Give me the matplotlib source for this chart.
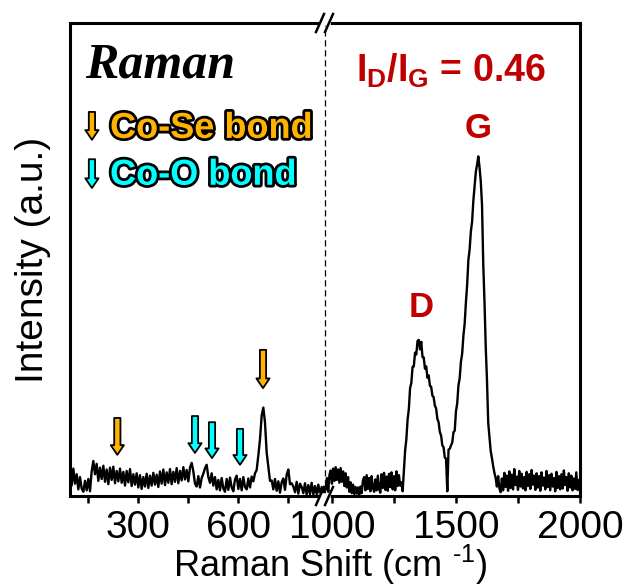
'''
Raman spectrum with a broken x axis (Co-Se / Co-O bonds and D, G bands).
'''

import numpy as np
import matplotlib
matplotlib.use('Agg')
import matplotlib.pyplot as plt
import matplotlib.patheffects as pe
from matplotlib.ticker import FixedLocator
from matplotlib.lines import Line2D

plt.rcParams['font.family'] = ['Liberation Sans', 'DejaVu Sans']
plt.rcParams['mathtext.fontset'] = 'custom'
plt.rcParams['mathtext.rm'] = 'Liberation Sans'
plt.rcParams['mathtext.bf'] = 'Liberation Sans:bold'

########
# DATA #
########

# low wavenumber part (cm-1), sampled every 5
shift_low = np.arange(95, 861, 5)
int_low = [
    5.0, 2.2, 5.8, 2.6, 4.6, 1.4, 4.0, 1.6, 0.9, 3.2,
    1.2, 3.6, 1.0, 5.2, 7.4, 4.6, 6.8, 3.2, 6.0, 3.6,
    6.4, 3.0, 5.6, 2.5, 6.0, 3.4, 6.2, 2.7, 5.3, 3.1,
    5.8, 2.8, 5.1, 2.2, 5.3, 2.9, 5.7, 2.1, 4.6, 2.4,
    4.8, 1.8, 4.4, 1.5, 4.0, 2.0, 4.7, 1.7, 4.3, 2.2,
    4.9, 2.4, 4.5, 1.9, 5.2, 2.6, 5.6, 2.3, 5.0, 2.8,
    5.7, 2.5, 5.1, 3.0, 5.9, 2.7, 5.3, 3.3, 6.1, 3.5,
    5.5, 3.1, 6.0, 7.0, 5.2, 2.6, 2.0, 4.2, 1.8, 3.8,
    4.7, 5.9, 6.6, 4.0, 2.8, 4.8, 2.2, 4.0, 1.4, 3.4,
    1.2, 3.8, 1.6, 0.9, 3.6, 1.3, 3.9, 1.8, 1.0, 3.5,
    4.3, 1.5, 3.6, 1.2, 4.0, 1.9, 1.4, 3.7, 1.8, 4.1,
    3.1, 4.8, 5.5, 8.6, 12.0, 17.0, 18.7, 15.5, 9.2, 6.2,
    3.2, 3.3, 1.4, 3.6, 1.1, 3.1, 0.7, 2.9, 3.7, 1.3,
    4.5, 5.6, 2.5, 2.7, 2.0, 0.8, 3.0, 0.5, 2.6, 1.9,
    0.6, 2.7, 0.3, 2.3, 0.4, 2.8, 0.3, 2.1, 0.4, 2.4,
    0.3, 1.9, 0.2, 1.5,
]

# high wavenumber part (cm-1), sampled every 5
shift_high = np.arange(975, 2001, 5)
int_high = [
    1.4, 3.8, 0.9, 4.5, 5.4, 2.6, 5.8, 3.2, 6.1, 3.4,
    5.6, 2.8, 5.9, 3.0, 5.2, 2.1, 4.8, 1.8, 4.0, 0.9,
    2.9, 0.6, 2.4, 0.4, 1.9, 0.5, 1.8, 0.3, 2.0, 0.6,
    3.3, 4.0, 1.2, 4.4, 1.5, 3.8, 1.0, 4.2, 1.8, 0.9,
    3.5, 1.2, 4.3, 1.5, 0.7, 4.6, 1.7, 4.9, 1.3, 4.1,
    1.1, 4.7, 1.9, 5.0, 1.4, 4.2, 1.2, 5.2, 2.1, 4.4,
    2.2, 2.9, 1.0, 5.5, 9.6, 12.0, 16.2, 18.4, 22.8, 23.9,
    27.3, 27.4, 30.3, 29.9, 32.8, 33.0, 31.0, 32.6, 29.4, 29.3,
    26.9, 27.4, 25.0, 25.5, 23.3, 23.1, 21.2, 20.9, 19.1, 18.5,
    16.3, 15.6, 13.5, 12.8, 10.7, 10.3, 8.1, 7.9, 1.0, 9.8,
    10.0, 10.7, 11.3, 13.5, 13.8, 17.9, 19.6, 23.4, 24.9, 28.4,
    30.1, 33.9, 36.4, 40.9, 44.6, 49.9, 52.1, 55.9, 58.0, 62.4,
    65.5, 68.5, 70.0, 71.8, 69.5, 66.5, 61.5, 49.0, 41.0, 31.5,
    24.5, 15.5, 12.5, 9.5, 8.0, 6.3, 4.9, 3.8, 2.0, 4.2,
    1.6, 0.8, 3.7, 1.2, 4.9, 1.9, 4.3, 1.1, 5.2, 1.7,
    4.5, 1.4, 5.7, 2.3, 4.1, 1.3, 5.3, 2.0, 4.7, 1.6,
    4.0, 1.2, 5.1, 2.1, 4.6, 1.5, 5.5, 2.4, 4.3, 1.3,
    4.8, 1.8, 4.2, 1.1, 5.0, 2.2, 3.9, 1.4, 5.3, 1.9,
    4.4, 1.2, 4.7, 2.0, 3.8, 1.0, 5.1, 1.7, 4.2, 1.4,
    4.6, 1.6, 5.4, 2.3, 4.0, 1.1, 4.8, 1.8, 4.3, 1.2,
    3.7, 1.5, 5.0, 1.3, 3.4, 0.9,
]

# bond markers: position (cm-1), arrow top, arrow tip
coSe_pos = [237, 674]
coSe_top = [16.5, 30.9]
coSe_tip = [8.7, 22.8]
coO_pos = [470, 521, 605]
coO_top = [16.9, 15.6, 14.2]
coO_tip = [9.1, 8.0, 6.6]

ratio_text = r'I$_{\mathbf{D}}$/I$_{\mathbf{G}}$ = 0.46'

ORANGE = '#FFB300'
CYAN = '#00FFFF'
RED = '#C00000'

########
# PLOT #
########

fig = plt.figure(figsize=(6.28, 5.86), dpi=100)
W, H = 628.0, 586.0
x0, xb, x1 = 70, 325, 580
y0, y1 = 496, 23
ax1 = fig.add_axes([x0 / W, 1 - y0 / H, (xb - x0) / W, (y0 - y1) / H])
ax2 = fig.add_axes([xb / W, 1 - y0 / H, (x1 - xb) / W, (y0 - y1) / H])

ax1.plot(shift_low, int_low, color='black', lw=1.7)
ax2.plot(shift_high, int_high, color='black', lw=1.7)

ax1.set_xlim(95, 860)
ax2.set_xlim(972, 2000)
for ax in (ax1, ax2):
    ax.set_ylim(0, 100)
    ax.set_yticks([])
    for s in ax.spines.values():
        s.set_linewidth(2.2)
    ax.tick_params(axis='x', which='both', direction='out', length=5, width=1.8,
                   labelsize=28, pad=5)
ax1.spines['right'].set_visible(False)
ax2.spines['left'].set_visible(False)

ax1.xaxis.set_major_locator(FixedLocator([300, 600]))
ax1.xaxis.set_minor_locator(FixedLocator([150, 450, 750]))
ax2.xaxis.set_major_locator(FixedLocator([1000, 1500, 2000]))
ax2.xaxis.set_minor_locator(FixedLocator([1250, 1750]))

# dashed divider
ax2.axvline(972, color='black', lw=0.9, ls=(0, (5, 3)), clip_on=False)

# break marks on top and bottom spine
for yp in (y1, y0):
    fy = 1 - yp / H
    fig.add_artist(Line2D([(xb - 3) / W, (xb + 3) / W], [fy, fy],
                          color='white', lw=4, transform=fig.transFigure))
    for xp in (xb - 5, xb + 4):
        fig.add_artist(Line2D([(xp - 4) / W, (xp + 4) / W],
                              [fy - 9 / H, fy + 9 / H],
                              color='black', lw=1.8, transform=fig.transFigure))

ax1.set_ylabel('Intensity (a.u.)', fontsize=28, labelpad=14)
fig.text(330 / W, 1 - 577 / H, r'Raman Shift (cm $^{\text{-1}}$)', fontsize=26,
         ha='center', va='baseline')

# title and legend
ax1.text(0.059, 0.884, 'Raman', transform=ax1.transAxes, fontsize=36,
         family='Liberation Serif', fontweight='bold', style='italic',
         va='baseline')

stroke = [pe.withStroke(linewidth=4, foreground='black')]


def down_arrow(ax, xy, xytext, color, coords='data'):
    ax.annotate('', xy=xy, xytext=xytext, xycoords=coords, textcoords=coords,
                arrowprops=dict(arrowstyle='simple,head_length=0.7,head_width=0.95,tail_width=0.45',
                                mutation_scale=10, fc=color, ec='black', lw=1.3,
                                shrinkA=0, shrinkB=0))


down_arrow(ax1, (0.086, 0.753), (0.086, 0.812), ORANGE, 'axes fraction')
down_arrow(ax1, (0.086, 0.651), (0.086, 0.712), CYAN, 'axes fraction')
ax1.text(0.157, 0.757, 'Co-Se bond', transform=ax1.transAxes, fontsize=26,
         fontweight='bold', color=ORANGE, path_effects=stroke, va='baseline')
ax1.text(0.157, 0.658, 'Co-O bond', transform=ax1.transAxes, fontsize=26,
         fontweight='bold', color=CYAN, path_effects=stroke, va='baseline')

for p, t, b in zip(coSe_pos, coSe_top, coSe_tip):
    down_arrow(ax1, (p, b), (p, t), ORANGE)
for p, t, b in zip(coO_pos, coO_top, coO_tip):
    down_arrow(ax1, (p, b), (p, t), CYAN)

# carbon bands
ax2.text(0.494, 0.875, ratio_text, transform=ax2.transAxes, fontsize=27,
         fontweight='bold', color=RED, ha='center', va='baseline')
ax2.text(1590, 75.7, 'G', fontsize=25, fontweight='bold', color=RED,
         ha='center', va='baseline')
ax2.text(1359, 37.8, 'D', fontsize=25, fontweight='bold', color=RED,
         ha='center', va='baseline')

fig.savefig('out.png', dpi=100)
